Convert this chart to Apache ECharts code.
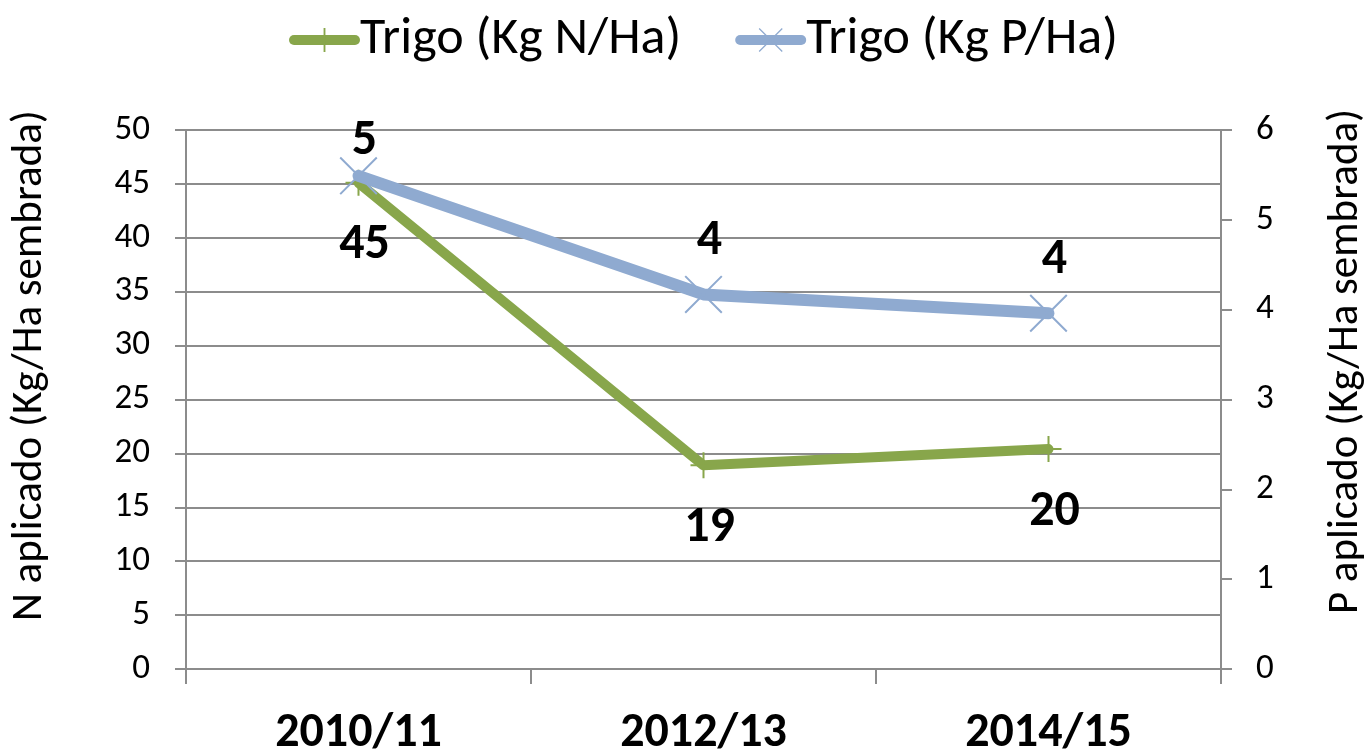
<!DOCTYPE html>
<html>
<head>
<meta charset="utf-8">
<script src="https://cdn.jsdelivr.net/npm/echarts@6/dist/echarts.min.js"></script>
<style>html,body{margin:0;padding:0;background:#fff}#c{width:1370px;height:754px}</style>
</head>
<body>
<div id="c"></div>
<script>
const categories = ['2010/11', '2012/13', '2014/15'];
const nValues = [45.1, 18.9, 20.4];
const pValues = [5.49, 4.17, 3.96];
const seriesNames = ['Trigo (Kg N/Ha)', 'Trigo (Kg P/Ha)'];
const leftAxisName = 'N aplicado (Kg/Ha sembrada)';
const rightAxisName = 'P aplicado (Kg/Ha sembrada)';

const FONT = 'Carlito, Lato, "Open Sans", sans-serif';
const GREEN = '#88a64b';
const BLUE = '#8faad0';
const GRID = '#8c8c8c';

const plusPath = 'path://M0,12L26,12L26,14L0,14Z M12,0L14,0L14,26L12,26Z';
const crossPath = 'path://M0,1.5L1.5,0L40,38.5L38.5,40Z M38.5,0L40,1.5L1.5,40L0,38.5Z';

const chart = echarts.init(document.getElementById('c'));
const labelFmt = p => String(Math.round(p.value));

const pData = pValues.map((v, i) => i === 0 ? { value: v, label: { distance: -10 } } : v);

chart.setOption({
  animation: false,
  textStyle: { fontFamily: FONT },
  legend: {
    top: 9,
    left: 284,
    itemWidth: 61,
    itemHeight: 30,
    itemGap: 54,
    lineStyle: { width: 10, cap: 'round' },
    textStyle: { fontSize: 52, color: '#000', fontFamily: FONT },
    data: seriesNames
  },
  grid: { left: 186, right: 149, top: 130, bottom: 85, containLabel: false, outerBoundsMode: 'none' },
  xAxis: {
    type: 'category',
    data: categories,
    boundaryGap: true,
    axisLine: { lineStyle: { color: GRID, width: 2 } },
    axisTick: { show: true, length: 15, lineStyle: { color: GRID, width: 2 } },
    axisLabel: { fontSize: 48, fontWeight: 'bold', color: '#000', margin: 41, fontFamily: FONT },
    splitLine: { show: false }
  },
  yAxis: [
    {
      type: 'value', min: 0, max: 50, interval: 5, position: 'left',
      name: leftAxisName, nameLocation: 'middle', nameRotate: 90, nameGap: 134,
      nameTextStyle: { fontSize: 43, color: '#000', fontFamily: FONT, padding: [0, 0, 0, 68] },
      axisLine: { show: true, lineStyle: { color: GRID, width: 2 } },
      axisTick: { show: true, length: 11, lineStyle: { color: GRID, width: 2 } },
      axisLabel: { fontSize: 35, color: '#000', margin: 36, fontFamily: FONT },
      splitLine: { show: true, lineStyle: { color: GRID, width: 2 } }
    },
    {
      type: 'value', min: 0, max: 6, interval: 1, position: 'right',
      name: rightAxisName, nameLocation: 'middle', nameRotate: 90, nameGap: 104,
      nameTextStyle: { fontSize: 43, color: '#000', fontFamily: FONT, padding: [0, 0, 0, 76] },
      axisLine: { show: true, lineStyle: { color: GRID, width: 2 } },
      axisTick: { show: true, length: 11, lineStyle: { color: GRID, width: 2 } },
      axisLabel: { fontSize: 35, color: '#000', margin: 35, fontFamily: FONT },
      splitLine: { show: false }
    }
  ],
  series: [
    {
      name: seriesNames[0], type: 'line', yAxisIndex: 0, data: nValues,
      symbol: plusPath, symbolSize: 26, showAllSymbol: true,
      lineStyle: { color: GREEN, width: 10, cap: 'round', join: 'round' },
      itemStyle: { color: GREEN },
      label: { show: true, position: 'bottom', distance: 25, offset: [6, 0], fontSize: 50, fontWeight: 'bold', color: '#000', fontFamily: FONT, formatter: labelFmt },
      z: 3
    },
    {
      name: seriesNames[1], type: 'line', yAxisIndex: 1, data: pData,
      symbol: crossPath, symbolSize: 38, showAllSymbol: true,
      lineStyle: { color: BLUE, width: 12, cap: 'round', join: 'round' },
      itemStyle: { color: BLUE },
      label: { show: true, position: 'top', distance: 9, offset: [6, 0], fontSize: 50, fontWeight: 'bold', color: '#000', fontFamily: FONT, formatter: labelFmt },
      z: 4
    }
  ]
});
</script>
</body>
</html>
